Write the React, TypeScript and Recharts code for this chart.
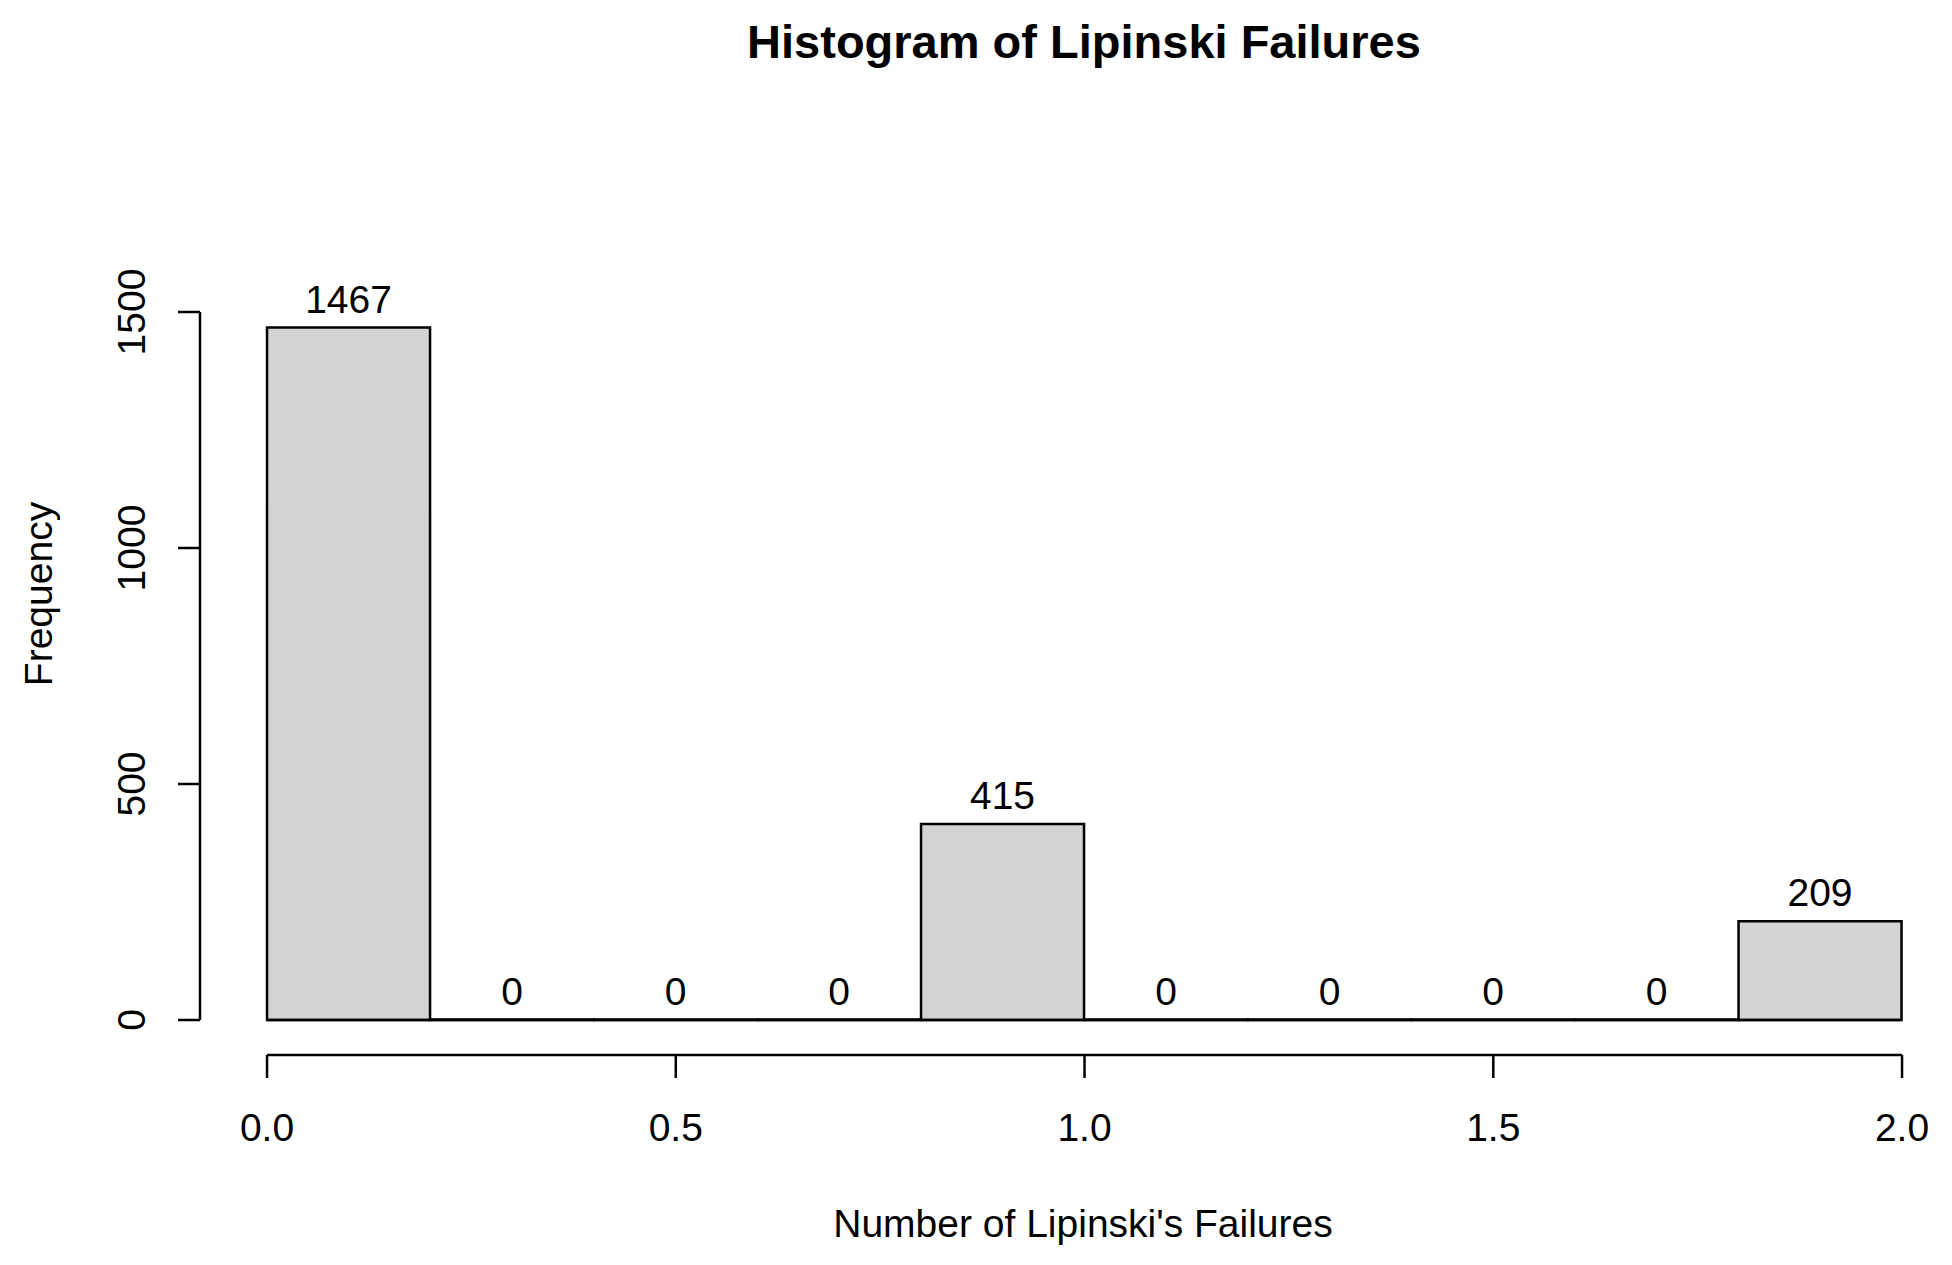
import { BarChart, Bar, XAxis, YAxis, LabelList, ReferenceLine } from 'recharts'

const BIN_LEFT = [0.0, 0.2, 0.4, 0.6, 0.8, 1.0, 1.2, 1.4, 1.6, 1.8]
const COUNTS = [1467, 0, 0, 0, 415, 0, 0, 0, 0, 209]
const BIN_WIDTH = 0.2
const X_TICKS = [0, 0.5, 1, 1.5, 2]
const Y_TICKS = [0, 500, 1000, 1500]

const TITLE = 'Histogram of Lipinski Failures'
const X_LABEL = "Number of Lipinski's Failures"
const Y_LABEL = 'Frequency'

const W = 1952
const H = 1265
const FONT = '"Liberation Sans", Arial, Helvetica, sans-serif'
const LINE_W = 2.5

// R style: plot region padded ~4% around the data, axes only span the ticks
const X_MIN = -0.082
const X_MAX = 2.02
const Y_MIN = -74.15
const Y_MAX = 1600
const PX_PER_X = 817.5
const PX_PER_Y = 0.472

const Y_AXIS_W = 100
const X_AXIS_H = 60
const PLOT_LEFT = 200
const PLOT_TOP = 1055 - (Y_MAX - Y_MIN) * PX_PER_Y
const PLOT_W = (X_MAX - X_MIN) * PX_PER_X

const data = BIN_LEFT.map((l, i) => ({ mid: l + BIN_WIDTH / 2, count: COUNTS[i] }))

function XTick({ x, y, payload }: any) {
  return (
    <text x={x} y={y + 63} textAnchor="middle" fontSize={39} fontFamily={FONT} fill="#000">
      {Number(payload.value).toFixed(1)}
    </text>
  )
}

function YTick({ x, y, payload }: any) {
  const tx = x - 33
  return (
    <text
      x={tx}
      y={y}
      transform={`rotate(-90, ${tx}, ${y})`}
      textAnchor="middle"
      fontSize={39}
      fontFamily={FONT}
      fill="#000"
    >
      {payload.value}
    </text>
  )
}

export default function App() {
  return (
    <div style={{ position: 'absolute', left: 0, top: 0, width: W, height: H, background: '#fff' }}>
      <BarChart
        width={W}
        height={H}
        data={data}
        barCategoryGap={0}
        barGap={0}
        margin={{
          top: PLOT_TOP,
          left: PLOT_LEFT - Y_AXIS_W,
          right: W - PLOT_LEFT - PLOT_W,
          bottom: H - 1055 - X_AXIS_H,
        }}
      >
        <XAxis
          dataKey="mid"
          type="number"
          domain={[X_MIN, X_MAX]}
          allowDataOverflow
          ticks={X_TICKS}
          interval={0}
          height={X_AXIS_H}
          axisLine={false}
          tickSize={23}
          tickMargin={0}
          tickLine={{ stroke: '#000', strokeWidth: LINE_W }}
          tick={<XTick />}
        />
        <YAxis
          type="number"
          domain={[Y_MIN, Y_MAX]}
          allowDataOverflow
          ticks={Y_TICKS}
          interval={0}
          width={Y_AXIS_W}
          axisLine={false}
          tickSize={22}
          tickMargin={0}
          tickLine={{ stroke: '#000', strokeWidth: LINE_W }}
          tick={<YTick />}
        />
        <ReferenceLine
          segment={[{ x: 0, y: 0 }, { x: 2, y: 0 }]}
          stroke="#000"
          strokeWidth={LINE_W}
          ifOverflow="visible"
        />
        <Bar
          dataKey="count"
          minPointSize={0.5}
          fill="#d3d3d3"
          stroke="#000"
          strokeWidth={LINE_W}
          isAnimationActive={false}
        >
          <LabelList dataKey="count" position="top" offset={15} fontSize={39} fontFamily={FONT} fill="#000" />
        </Bar>
        <ReferenceLine
          segment={[{ x: 0, y: Y_MIN }, { x: 2, y: Y_MIN }]}
          stroke="#000"
          strokeWidth={LINE_W}
          ifOverflow="visible"
        />
        <ReferenceLine
          segment={[{ x: X_MIN, y: 0 }, { x: X_MIN, y: 1500 }]}
          stroke="#000"
          strokeWidth={LINE_W}
          ifOverflow="visible"
        />
      </BarChart>
      <svg
        width={W}
        height={H}
        style={{ position: 'absolute', left: 0, top: 0, pointerEvents: 'none' }}
      >
        <text x={1084} y={58} textAnchor="middle" fontSize={47} fontWeight="bold" fontFamily={FONT} fill="#000">
          {TITLE}
        </text>
        <text x={1083} y={1237} textAnchor="middle" fontSize={39} fontFamily={FONT} fill="#000">
          {X_LABEL}
        </text>
        <text
          x={52}
          y={594}
          transform="rotate(-90, 52, 594)"
          textAnchor="middle"
          fontSize={39}
          fontFamily={FONT}
          fill="#000"
        >
          {Y_LABEL}
        </text>
      </svg>
    </div>
  )
}
